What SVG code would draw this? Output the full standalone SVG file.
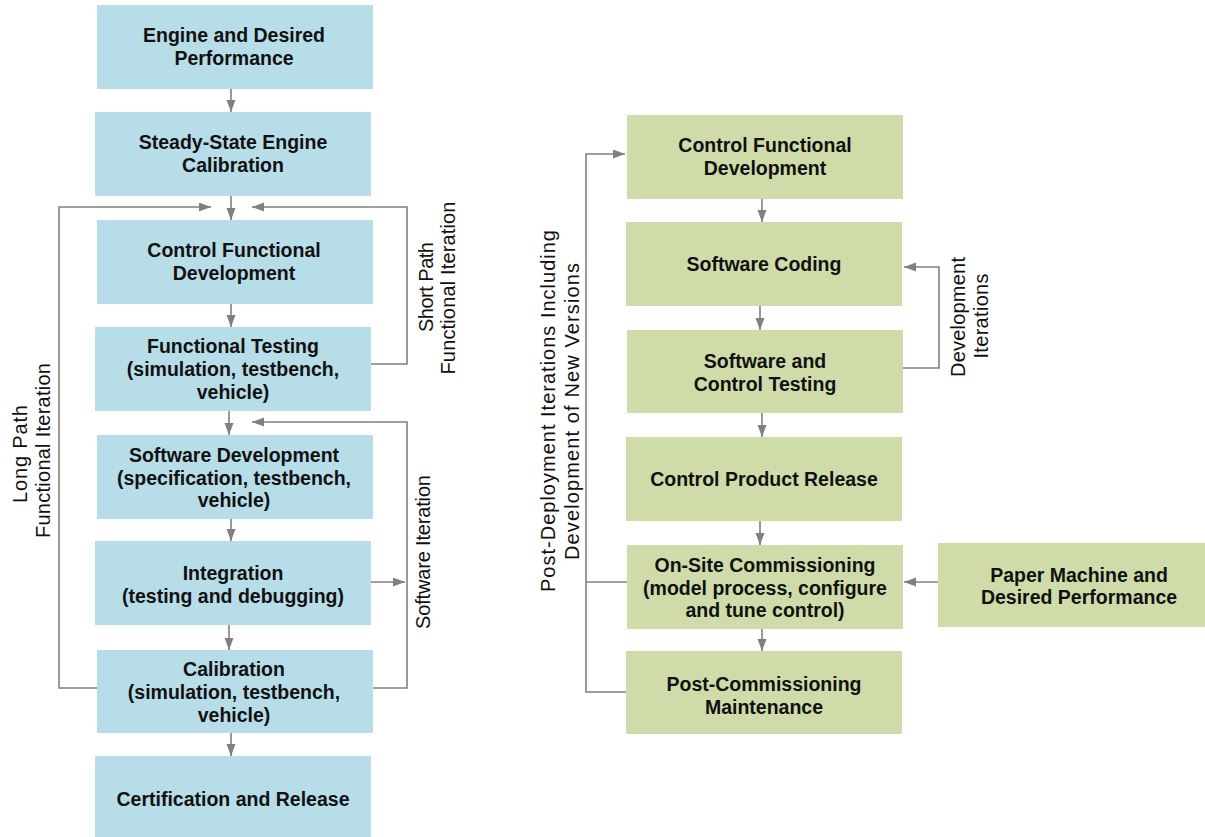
<svg xmlns="http://www.w3.org/2000/svg" width="1205" height="837" viewBox="0 0 1205 837">
<style>
.blue{fill:#b7dde8}
.green{fill:#cfdcaa}
.t{font-family:"Liberation Sans",Arial,sans-serif;font-weight:bold;font-size:19.5px;fill:#111;text-anchor:middle}
.s{font-family:"Liberation Sans",Arial,sans-serif;font-size:20px;fill:#111;text-anchor:middle}
.c{fill:none;stroke:#808080;stroke-width:1.6}
.a{marker-end:url(#ah)}
</style>
<defs>
<marker id="ah" markerUnits="userSpaceOnUse" markerWidth="13" markerHeight="10" refX="12" refY="4.5" orient="auto">
<path d="M0,0 L12,4.5 L0,9 z" fill="#808080"/>
</marker>
</defs>
<rect width="1205" height="837" fill="#fff"/>

<g id="connectors">
<line class="c a" x1="231" y1="89" x2="231" y2="112"/>
<line class="c a" x1="231" y1="196" x2="231" y2="220"/>
<polyline class="c a" points="97,688 59,688 59,207 211,207"/>
<polyline class="c a" points="371,364 407,364 407,207 252,207"/>
<line class="c a" x1="231" y1="304" x2="231" y2="327"/>
<line class="c a" x1="229" y1="411" x2="229" y2="435"/>
<polyline class="c a" points="373,688 407,688 407,422 252,422"/>
<line class="c a" x1="371" y1="582" x2="405" y2="582"/>
<line class="c a" x1="231" y1="519" x2="231" y2="541"/>
<line class="c a" x1="229" y1="625" x2="229" y2="650"/>
<line class="c a" x1="231" y1="733" x2="231" y2="756"/>

<line class="c a" x1="762" y1="199" x2="762" y2="222"/>
<line class="c a" x1="760" y1="306" x2="760" y2="330"/>
<line class="c a" x1="762" y1="413" x2="762" y2="437"/>
<line class="c a" x1="760" y1="521" x2="760" y2="545"/>
<line class="c a" x1="762" y1="629" x2="762" y2="651"/>
<polyline class="c a" points="903,368 939,368 939,267 904,267"/>
<line class="c a" x1="938" y1="582" x2="904" y2="582"/>
<polyline class="c a" points="627,692 586,692 586,154 625,154"/>
<line class="c" x1="627" y1="582" x2="586" y2="582"/>
</g>

<g id="labels">
<text class="s" transform="translate(27,454) rotate(-90)" textLength="98" lengthAdjust="spacing">Long Path</text>
<text class="s" transform="translate(50,450.5) rotate(-90)" textLength="175" lengthAdjust="spacing">Functional Iteration</text>
<text class="s" transform="translate(433,287) rotate(-90)" textLength="90" lengthAdjust="spacing">Short Path</text>
<text class="s" transform="translate(455,288) rotate(-90)" textLength="173" lengthAdjust="spacing">Functional Iteration</text>
<text class="s" transform="translate(430,552) rotate(-90)" textLength="154" lengthAdjust="spacing">Software Iteration</text>
<text class="s" transform="translate(555,411) rotate(-90)" textLength="362" lengthAdjust="spacing">Post-Deployment Iterations Including</text>
<text class="s" transform="translate(579,411.5) rotate(-90)" textLength="297" lengthAdjust="spacing">Development of New Versions</text>
<text class="s" transform="translate(965,317) rotate(-90)" textLength="120" lengthAdjust="spacing">Development</text>
<text class="s" transform="translate(988,316) rotate(-90)" textLength="85" lengthAdjust="spacing">Iterations</text>
</g>

<g id="n1"><rect class="blue" x="97" y="5" width="276" height="84"/>
<text class="t" x="234" y="42">Engine and Desired</text><text class="t" x="234" y="64.5">Performance</text></g>
<g id="n2"><rect class="blue" x="95" y="112" width="276" height="84"/>
<text class="t" x="233" y="149">Steady-State Engine</text><text class="t" x="233" y="172">Calibration</text></g>
<g id="n3"><rect class="blue" x="97" y="220" width="276" height="84"/>
<text class="t" x="234" y="257">Control Functional</text><text class="t" x="234" y="280">Development</text></g>
<g id="n4"><rect class="blue" x="95" y="327" width="276" height="84"/>
<text class="t" x="233" y="353">Functional Testing</text><text class="t" x="233" y="376">(simulation, testbench,</text><text class="t" x="233" y="399">vehicle)</text></g>
<g id="n5"><rect class="blue" x="97" y="435" width="276" height="84"/>
<text class="t" x="234" y="461.5">Software Development</text><text class="t" x="234" y="484.5">(specification, testbench,</text><text class="t" x="234" y="507">vehicle)</text></g>
<g id="n6"><rect class="blue" x="95" y="541" width="276" height="84"/>
<text class="t" x="233" y="579.5">Integration</text><text class="t" x="233" y="602.5">(testing and debugging)</text></g>
<g id="n7"><rect class="blue" x="97" y="650" width="276" height="83"/>
<text class="t" x="234" y="676">Calibration</text><text class="t" x="234" y="699">(simulation, testbench,</text><text class="t" x="234" y="722">vehicle)</text></g>
<g id="n8"><rect class="blue" x="95" y="756" width="276" height="81"/>
<text class="t" x="233" y="805.5">Certification and Release</text></g>

<g id="r1"><rect class="green" x="627" y="115" width="276" height="84"/>
<text class="t" x="765" y="152">Control Functional</text><text class="t" x="765" y="175">Development</text></g>
<g id="r2"><rect class="green" x="626" y="222" width="276" height="84"/>
<text class="t" x="764" y="271">Software Coding</text></g>
<g id="r3"><rect class="green" x="627" y="330" width="276" height="83"/>
<text class="t" x="765" y="368">Software and</text><text class="t" x="765" y="391">Control Testing</text></g>
<g id="r4"><rect class="green" x="626" y="437" width="276" height="84"/>
<text class="t" x="764" y="486">Control Product Release</text></g>
<g id="r5"><rect class="green" x="627" y="545" width="276" height="84"/>
<text class="t" x="765" y="572">On-Site Commissioning</text><text class="t" x="765" y="595">(model process, configure</text><text class="t" x="765" y="617">and tune control)</text></g>
<g id="r6"><rect class="green" x="626" y="651" width="276" height="83"/>
<text class="t" x="764" y="691">Post-Commissioning</text><text class="t" x="764" y="713.5">Maintenance</text></g>
<g id="r7"><rect class="green" x="938" y="543" width="267" height="84"/>
<text class="t" x="1079" y="582">Paper Machine and</text><text class="t" x="1079" y="604">Desired Performance</text></g>
</svg>
